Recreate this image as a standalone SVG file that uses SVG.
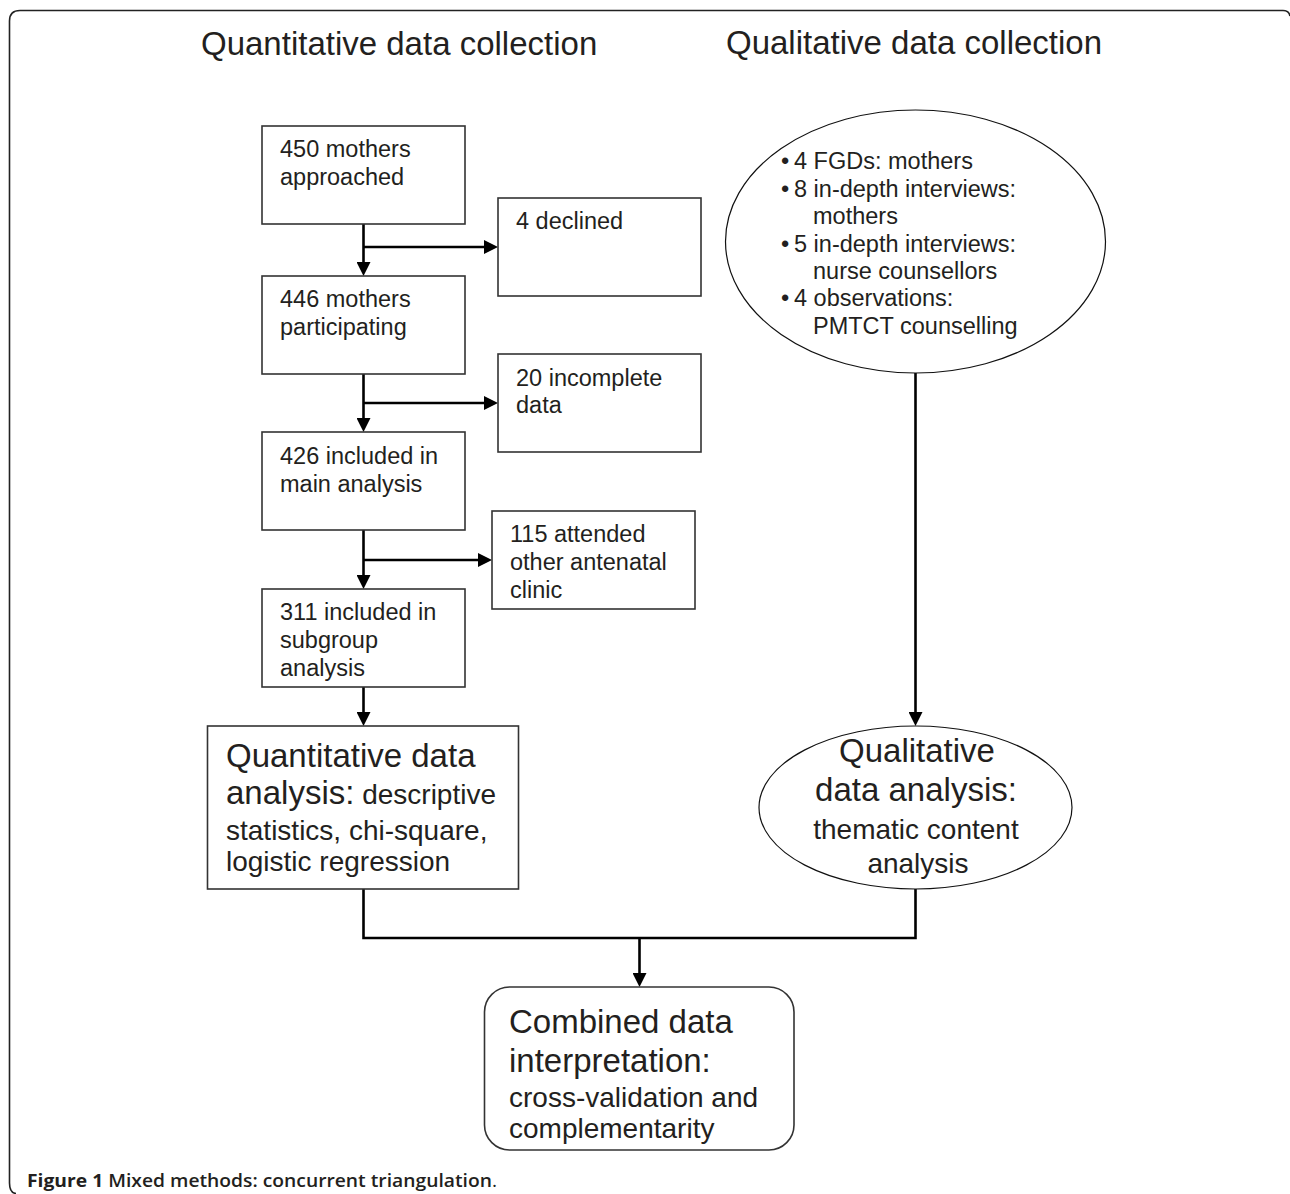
<svg xmlns="http://www.w3.org/2000/svg" width="1290" height="1194" viewBox="0 0 1290 1194">
<defs>
<style>
.frame{fill:none;stroke:#222;stroke-width:1.6}
.box{fill:#fff;stroke:#333;stroke-width:1.6}
.ell{fill:#fff;stroke:#111;stroke-width:1.2}
.conn{fill:none;stroke:#000;stroke-width:2.6}
.t{font-family:"Liberation Sans",Arial,sans-serif;fill:#231f20;font-size:23.5px}
.big{font-size:33px}
.mid{font-size:28px}
.cap{font-family:"Open Sans","Noto Sans",sans-serif;fill:#231f20;font-size:17.5px}
</style>
<marker id="ah" viewBox="0 0 14 14" markerWidth="14" markerHeight="14" markerUnits="userSpaceOnUse" refX="6" refY="7" orient="auto">
<path d="M0,0 L14,7 L0,14 z" fill="#000"/>
</marker>
</defs>
<rect width="1290" height="1194" fill="#fff"/>
<path class="frame" d="M1290,16 Q1289,10.5 1283,10.5 H20 Q9.5,10.5 9.5,21 V1183 Q9.5,1193 16,1193.5"/>

<g id="titles">
<text class="t big" x="201" y="55">Quantitative data collection</text>
<text class="t big" x="726" y="54">Qualitative data collection</text>
</g>

<g id="connectors">
<line class="conn" x1="363.5" y1="224" x2="363.5" y2="268" marker-end="url(#ah)"/>
<line class="conn" x1="363.5" y1="247" x2="490" y2="247" marker-end="url(#ah)"/>
<line class="conn" x1="363.5" y1="374" x2="363.5" y2="424" marker-end="url(#ah)"/>
<line class="conn" x1="363.5" y1="403" x2="490" y2="403" marker-end="url(#ah)"/>
<line class="conn" x1="363.5" y1="530" x2="363.5" y2="581" marker-end="url(#ah)"/>
<line class="conn" x1="363.5" y1="560" x2="484" y2="560" marker-end="url(#ah)"/>
<line class="conn" x1="363.5" y1="687" x2="363.5" y2="718" marker-end="url(#ah)"/>
<line class="conn" x1="915.5" y1="373" x2="915.5" y2="718" marker-end="url(#ah)"/>
<path class="conn" d="M363.5,889 V938 H915.5 V889"/>
<line class="conn" x1="639.5" y1="938" x2="639.5" y2="979" marker-end="url(#ah)"/>
</g>

<g id="n450">
<rect class="box" x="262" y="126" width="203" height="98"/>
<text class="t" x="280" y="157">450 mothers</text>
<text class="t" x="280" y="184.5">approached</text>
</g>
<g id="declined">
<rect class="box" x="498" y="198" width="203" height="98"/>
<text class="t" x="516" y="229">4 declined</text>
</g>
<g id="n446">
<rect class="box" x="262" y="276" width="203" height="98"/>
<text class="t" x="280" y="307">446 mothers</text>
<text class="t" x="280" y="334.5">participating</text>
</g>
<g id="incomplete">
<rect class="box" x="498" y="354" width="203" height="98"/>
<text class="t" x="516" y="386">20 incomplete</text>
<text class="t" x="516" y="413">data</text>
</g>
<g id="n426">
<rect class="box" x="262" y="432" width="203" height="98"/>
<text class="t" x="280" y="464">426 included in</text>
<text class="t" x="280" y="492">main analysis</text>
</g>
<g id="other">
<rect class="box" x="492" y="511" width="203" height="98"/>
<text class="t" x="510" y="542">115 attended</text>
<text class="t" x="510" y="570">other antenatal</text>
<text class="t" x="510" y="597.5">clinic</text>
</g>
<g id="n311">
<rect class="box" x="262" y="589" width="203" height="98"/>
<text class="t" x="280" y="620">311 included in</text>
<text class="t" x="280" y="648">subgroup</text>
<text class="t" x="280" y="675.5">analysis</text>
</g>
<g id="quantAnalysis">
<rect class="box" x="207.5" y="726" width="311" height="163"/>
<text class="t big" x="226" y="767">Quantitative data</text>
<text class="t big" x="226" y="804">analysis:<tspan class="mid"> descriptive</tspan></text>
<text class="t mid" x="226" y="840">statistics, chi-square,</text>
<text class="t mid" x="226" y="871">logistic regression</text>
</g>
<g id="qualCollection">
<ellipse class="ell" cx="915.5" cy="241.5" rx="190" ry="131.5"/>
<text class="t" x="781" y="169">•</text><text class="t" x="794" y="169">4 FGDs: mothers</text>
<text class="t" x="781" y="197">•</text><text class="t" x="794" y="197">8 in-depth interviews:</text>
<text class="t" x="813" y="224">mothers</text>
<text class="t" x="781" y="252">•</text><text class="t" x="794" y="252">5 in-depth interviews:</text>
<text class="t" x="813" y="279">nurse counsellors</text>
<text class="t" x="781" y="306">•</text><text class="t" x="794" y="306">4 observations:</text>
<text class="t" x="813" y="333.5">PMTCT counselling</text>
</g>
<g id="qualAnalysis">
<ellipse class="ell" cx="915.5" cy="807.5" rx="156.5" ry="81.5"/>
<text class="t big" x="917" y="762" text-anchor="middle">Qualitative</text>
<text class="t big" x="916" y="800.5" text-anchor="middle">data analysis:</text>
<text class="t mid" x="916" y="839" text-anchor="middle">thematic content</text>
<text class="t mid" x="918" y="873" text-anchor="middle">analysis</text>
</g>
<g id="combined">
<rect class="box" x="484.5" y="987" width="309.5" height="163" rx="25" ry="25"/>
<text class="t big" x="509" y="1033">Combined data</text>
<text class="t big" x="509" y="1071.5">interpretation:</text>
<text class="t mid" x="509" y="1106.5">cross-validation and</text>
<text class="t mid" x="509" y="1138">complementarity</text>
</g>
<g id="caption">
<text class="cap" x="27" y="1187" textLength="470" lengthAdjust="spacingAndGlyphs"><tspan font-weight="700">Figure 1</tspan><tspan font-weight="600"> Mixed methods: concurrent triangulation</tspan><tspan font-weight="400">.</tspan></text>
</g>
</svg>
